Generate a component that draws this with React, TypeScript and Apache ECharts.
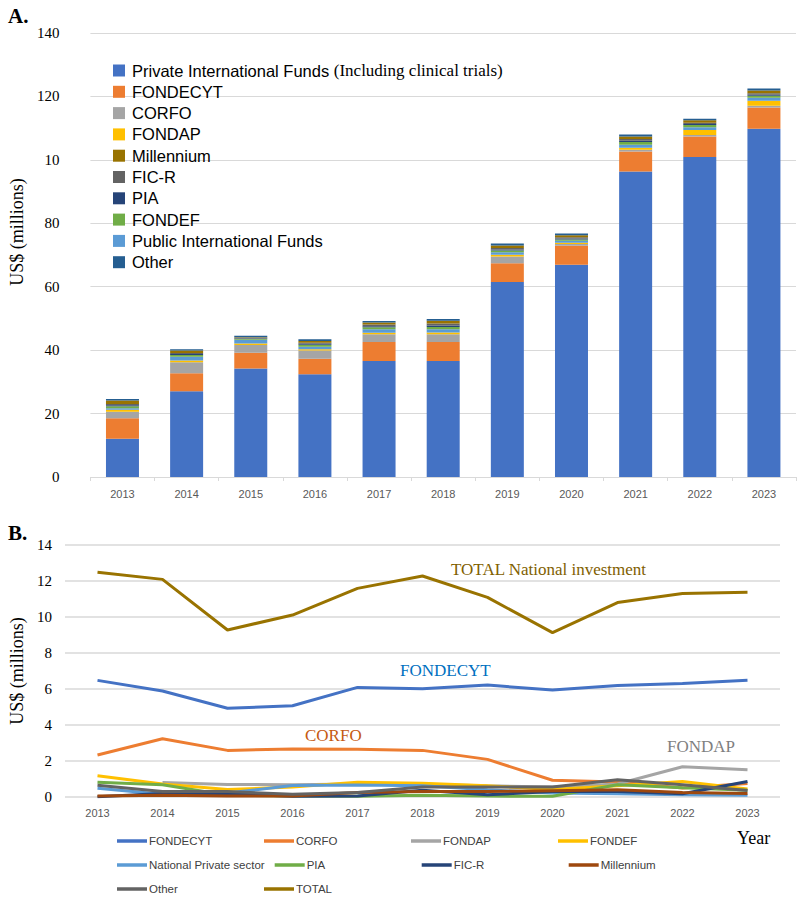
import React, { useEffect, useRef } from "react";
import * as echarts from "echarts";

const years = ["2013", "2014", "2015", "2016", "2017", "2018", "2019", "2020", "2021", "2022", "2023"];

// Panel A (stacked bars, US$ millions)
const privateIntl = [12.1, 27.0, 34.2, 32.4, 36.6, 36.6, 61.5, 66.9, 96.3, 100.9, 109.8];
const fondecytA = [6.4, 5.7, 5.0, 4.9, 6.0, 6.0, 5.9, 6.0, 6.3, 6.5, 6.7];
const corfoA = [2.1, 3.5, 2.4, 2.6, 2.4, 2.4, 2.1, 0.6, 0.6, 0.4, 0.6];
const fondapA = [0.6, 0.5, 0.5, 0.4, 0.5, 0.6, 0.6, 0.4, 0.6, 1.6, 1.5];
const publicIntl = [0.5, 1.2, 1.2, 0.8, 1.1, 1.0, 0.8, 0.6, 1.0, 0.9, 1.0];
const fondefA = [0.6, 0.6, 0.2, 0.6, 0.6, 0.7, 0.5, 0.4, 0.8, 0.7, 0.6];
const piaA = [0.3, 0.3, 0.2, 0.3, 0.3, 0.5, 0.3, 0.3, 0.4, 0.3, 0.3];
const ficrA = [0.4, 0.3, 0.2, 0.3, 0.6, 0.6, 0.5, 0.4, 0.6, 0.4, 0.5];
const millenniumA = [1.1, 0.8, 0.2, 0.6, 0.6, 0.9, 0.8, 0.6, 0.8, 0.8, 0.9];
const otherA = [0.5, 0.4, 0.4, 0.5, 0.5, 0.5, 0.6, 0.6, 0.6, 0.5, 0.6];
const topYTickLabels = ["0", "20", "40", "60", "80", "10", "120", "140"];
const topLegendOrder = ["Private International Funds", "FONDECYT", "CORFO", "FONDAP", "Millennium", "FIC-R", "PIA", "FONDEF", "Public International Funds", "Other"];

// Panel B (lines, US$ millions)
const fondecytB = [6.48, 5.89, 4.93, 5.07, 6.09, 6.02, 6.22, 5.94, 6.19, 6.3, 6.48];
const corfoB = [2.33, 3.24, 2.59, 2.67, 2.65, 2.59, 2.09, 0.93, 0.84, 0.5, 0.75];
const fondapB = [null, 0.8, 0.7, 0.68, 0.72, 0.7, 0.62, 0.55, 0.72, 1.68, 1.52];
const fondefB = [1.18, 0.72, 0.42, 0.55, 0.82, 0.76, 0.62, 0.42, 0.62, 0.86, 0.45];
const natPrivB = [0.48, 0.15, 0.22, 0.64, 0.66, 0.62, 0.4, 0.22, 0.18, 0.12, 0.1];
const piaB = [0.82, 0.68, 0.1, 0.06, 0.04, 0.1, 0.05, 0.04, 0.68, 0.52, 0.38];
const ficrB = [0.02, 0.2, 0.18, 0.04, 0.06, 0.38, 0.12, 0.3, 0.3, 0.18, 0.86];
const millenniumB = [0.05, 0.1, 0.05, 0.05, 0.25, 0.3, 0.3, 0.35, 0.4, 0.25, 0.2];
const otherB = [0.65, 0.3, 0.3, 0.15, 0.25, 0.55, 0.55, 0.55, 0.96, 0.68, 0.36];
const totalB = [12.48, 12.09, 9.28, 10.11, 11.59, 12.28, 11.09, 9.13, 10.8, 11.3, 11.37];

const SERIF = "'Liberation Serif', 'Times New Roman', serif";
const SANS = "'Liberation Sans', Arial, sans-serif";

export default function App() {
  const ref = useRef<HTMLDivElement>(null);
  useEffect(() => {
    document.body.style.margin = "0";
    const chart = echarts.init(ref.current!, null, { renderer: "svg" });

    const barDefs: [string, number[], string][] = [
      ["Private International Funds", privateIntl, "#4472C4"],
      ["FONDECYT", fondecytA, "#ED7D31"],
      ["CORFO", corfoA, "#A5A5A5"],
      ["FONDAP", fondapA, "#FFC000"],
      ["Public International Funds", publicIntl, "#5B9BD5"],
      ["FONDEF", fondefA, "#70AD47"],
      ["PIA", piaA, "#264478"],
      ["FIC-R", ficrA, "#636363"],
      ["Millennium", millenniumA, "#997300"],
      ["Other", otherA, "#255E91"],
    ];
    const lineDefs: [string, (number | null)[], string][] = [
      ["FONDECYT ", fondecytB, "#4472C4"],
      ["CORFO ", corfoB, "#ED7D31"],
      ["FONDAP ", fondapB, "#A5A5A5"],
      ["FONDEF ", fondefB, "#FFC000"],
      ["National Private sector", natPrivB, "#5B9BD5"],
      ["PIA ", piaB, "#70AD47"],
      ["FIC-R ", ficrB, "#264478"],
      ["Millennium ", millenniumB, "#9E480E"],
      ["Other ", otherB, "#636363"],
      ["TOTAL", totalB, "#997300"],
    ];

    const series: any[] = [];
    barDefs.forEach(([name, data, color]) => {
      series.push({
        name, type: "bar", stack: "a", xAxisIndex: 0, yAxisIndex: 0,
        data, barWidth: 33, itemStyle: { color }, emphasis: { disabled: true },
      });
    });
    lineDefs.forEach(([name, data, color]) => {
      series.push({
        name, type: "line", xAxisIndex: 1, yAxisIndex: 1, data,
        symbol: "none", lineStyle: { color, width: 3 }, itemStyle: { color },
        connectNulls: false,
      });
    });

    chart.setOption({
      animation: false,
      grid: [
        { left: 81, right: 1, top: 33, bottom: 420 },
        { left: 65, right: 17, top: 545, bottom: 100 },
      ],
      xAxis: [
        {
          type: "category", gridIndex: 0, data: years,
          axisLine: { lineStyle: { color: "#d9d9d9" } },
          axisTick: { show: true, length: 4, lineStyle: { color: "#d9d9d9" } },
          axisLabel: { fontFamily: SANS, fontSize: 11, color: "#595959", margin: 11 },
        },
        {
          type: "category", gridIndex: 1, data: years,
          axisLine: { show: false },
          axisTick: { show: false },
          axisLabel: { fontFamily: SANS, fontSize: 11, color: "#595959", margin: 10 },
        },
      ],
      yAxis: [
        {
          type: "value", gridIndex: 0, min: 0, max: 140, interval: 20,
          splitLine: { show: true, lineStyle: { color: "#d9d9d9", width: 1 } },
          axisLine: { show: false }, axisTick: { show: false },
          axisLabel: {
            fontFamily: SERIF, fontSize: 15, color: "#000", margin: 31,
            formatter: (v: number) => topYTickLabels[Math.round(v / 20)],
          },
          name: "US$ (millions)", nameLocation: "middle", nameRotate: 90, nameGap: 54,
          nameTextStyle: { fontFamily: SERIF, fontSize: 18, color: "#000", padding: [0, 0, 0, 46] },
        },
        {
          type: "value", gridIndex: 1, min: 0, max: 14, interval: 2,
          splitLine: { show: true, lineStyle: { color: "#d9d9d9", width: 1.5 } },
          axisLine: { show: false }, axisTick: { show: false },
          axisLabel: { fontFamily: SERIF, fontSize: 15, color: "#000", margin: 13 },
          name: "US$ (millions)", nameLocation: "middle", nameRotate: 90, nameGap: 38,
          nameTextStyle: { fontFamily: SERIF, fontSize: 18, color: "#000" },
        },
      ],
      legend: [
        {
          data: topLegendOrder,
          orient: "vertical", left: 108, top: 57,
          icon: "rect", itemWidth: 12, itemHeight: 12, itemGap: 4.3,
          selectedMode: false,
          formatter: (name: string) =>
            name === "Private International Funds"
              ? "{a|Private International Funds }{b|(Including clinical trials)}"
              : "{a|" + name + "}",
          textStyle: {
            color: "#000", padding: [0, 0, 0, 2],
            rich: {
              a: { fontFamily: SANS, fontSize: 16.5, lineHeight: 17, color: "#000" },
              b: { fontFamily: SERIF, fontSize: 17, lineHeight: 17, color: "#000" },
            },
          },
        },
        {
          data: lineDefs.map((d) => d[0]),
          orient: "horizontal", left: 112, top: 829, width: 600,
          icon: "rect", itemWidth: 30, itemHeight: 3.5, itemGap: 10,
          selectedMode: false,
          formatter: (name: string) => name.trim(),
          textStyle: { fontFamily: SANS, fontSize: 11.5, color: "#404040", lineHeight: 14, width: 105, padding: [0, 0, 0, -3] },
        },
      ],
      graphic: [
        { type: "text", left: 8, top: 5, style: { text: "A.", font: "bold 21px " + SERIF, fill: "#000" } },
        { type: "text", left: 8, top: 522, style: { text: "B.", font: "bold 21px " + SERIF, fill: "#000" } },
        { type: "text", left: 451, top: 561, style: { text: "TOTAL National investment", font: "17px " + SERIF, fill: "#7F6000" } },
        { type: "text", left: 400, top: 662, style: { text: "FONDECYT", font: "17px " + SERIF, fill: "#0070C0" } },
        { type: "text", left: 305, top: 727, style: { text: "CORFO", font: "17px " + SERIF, fill: "#C55A11" } },
        { type: "text", left: 667, top: 738, style: { text: "FONDAP", font: "17px " + SERIF, fill: "#7F7F7F" } },
        { type: "text", left: 737, top: 829, style: { text: "Year", font: "18px " + SERIF, fill: "#000" } },
      ],
      series,
    });
    return () => chart.dispose();
  }, []);
  return <div ref={ref} style={{ width: 797, height: 897 }} />;
}
